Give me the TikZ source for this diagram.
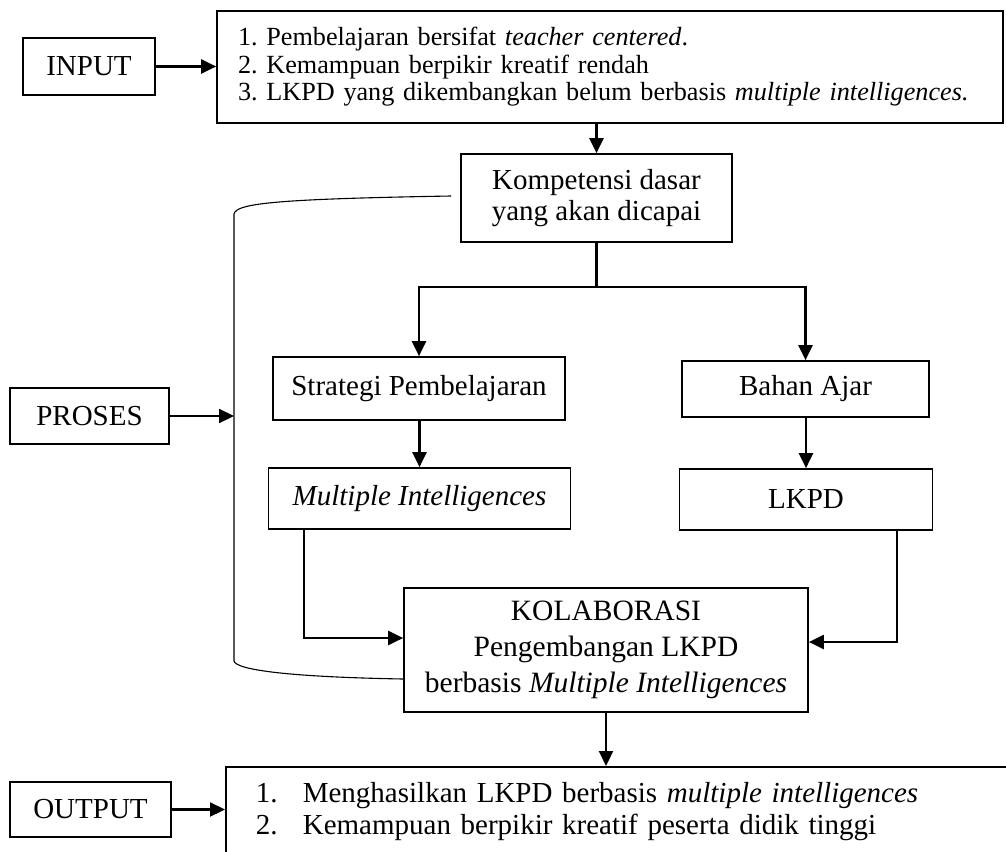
\documentclass[tikz,border=0pt]{standalone}
\usepackage{fontspec}
\setmainfont{Liberation Serif}
\usetikzlibrary{arrows.meta,calc}
\frenchspacing
\begin{document}
\begin{tikzpicture}[x=1pt,y=-1pt,
  box/.style={draw,line width=1.7pt,inner sep=0pt,align=center,
    font=\fontsize{29}{31}\selectfont},
  flow/.style={line width=2.2pt,-{Triangle[length=15pt,width=14pt]}},
  plain/.style={line width=2.2pt},
  brace/.style={line width=1.1pt}]
\useasboundingbox (0,0) rectangle (1006,851);
\clip (0,0) rectangle (1006,851);

% --- input stage ---
\node[box,minimum width=132pt,minimum height=57pt] (input) at (89,66.5) {INPUT};
\node[box,minimum height=112pt,text width=744pt,inner xsep=21pt,align=left,
  font=\fontsize{26.2}{27.5}\selectfont] (problems) at (610,67)
  {1. Pembelajaran bersifat \textit{teacher centered}.\\
   2. Kemampuan berpikir kreatif rendah\\
   3. LKPD yang dikembangkan belum berbasis \textit{multiple intelligences.}};

% --- process stage ---
\node[box,minimum width=271pt,minimum height=88pt] (komp) at (596.5,198)
  {Kompetensi dasar\\yang akan dicapai};
\node[box,minimum width=292pt,minimum height=63pt] (strat) at (419,388.5)
  {Strategi Pembelajaran};
\node[box,minimum width=302pt,minimum height=61pt] (mi) at (419.5,498.5)
  {\textit{Multiple Intelligences}};
\node[box,minimum width=247pt,minimum height=56pt] (bahan) at (805.5,389)
  {Bahan Ajar};
\node[box,minimum width=253pt,minimum height=61pt] (lkpd) at (806,499.5)
  {LKPD};
\node[box,minimum width=404pt,minimum height=124pt,
  font=\fontsize{29.5}{36}\selectfont] (kolab) at (606,650)
  {KOLABORASI\\Pengembangan LKPD\\berbasis \textit{Multiple Intelligences}};
\node[box,minimum width=159pt,minimum height=56pt] (proses) at (89.5,416) {PROSES};

% --- output stage ---
\node[box,minimum width=161pt,minimum height=55pt] (output) at (90.5,809.5) {OUTPUT};
\node[box,anchor=north west,minimum height=90pt,text width=800pt,inner xsep=30pt,
  align=left,font=\fontsize{29}{32}\selectfont] (results) at (225,766)
  {\makebox[47pt][l]{1.}Menghasilkan LKPD berbasis \textit{multiple intelligences}\\
   \makebox[47pt][l]{2.}Kemampuan berpikir kreatif peserta didik tinggi};

% --- connectors ---
\draw[flow] (input.east) -- (input.east -| problems.west);
\draw[flow] (komp.north |- problems.south) -- (komp.north);

\coordinate (split) at (komp.south |- 0,287);
\draw[plain] (komp.south) -- (split);
\draw[flow] (split) -| (strat.north);
\draw[flow] (split) -| (bahan.north);
\draw[flow] (strat.south -| mi.north) -- (mi.north);
\draw[flow] (bahan.south -| lkpd.north) -- (lkpd.north);
\draw[flow] ($(mi.south west)+(36,0)$) |- ($(kolab.west)+(0,-12)$);
\draw[flow] ($(lkpd.south east)+(-36,0)$) |- ($(kolab.east)+(0,-8)$);
\draw[flow] (kolab.south) -- (kolab.south |- results.north);

% bracket grouping the process stage
\coordinate (brtop) at ($(komp.west)+(-9,-2)$);
\coordinate (brbot) at ($(kolab.west)+(0,29)$);
\coordinate (brmid) at (234,416);
\draw[brace] (brtop) .. controls (280,199) and (236,203) .. (234,214)
  -- (234,661) .. controls (236,670) and (290,677) .. (brbot);
\draw[flow] (proses.east) -- (brmid);

\draw[flow] (output.east) -- (output.east -| results.west);
\end{tikzpicture}
\end{document}
